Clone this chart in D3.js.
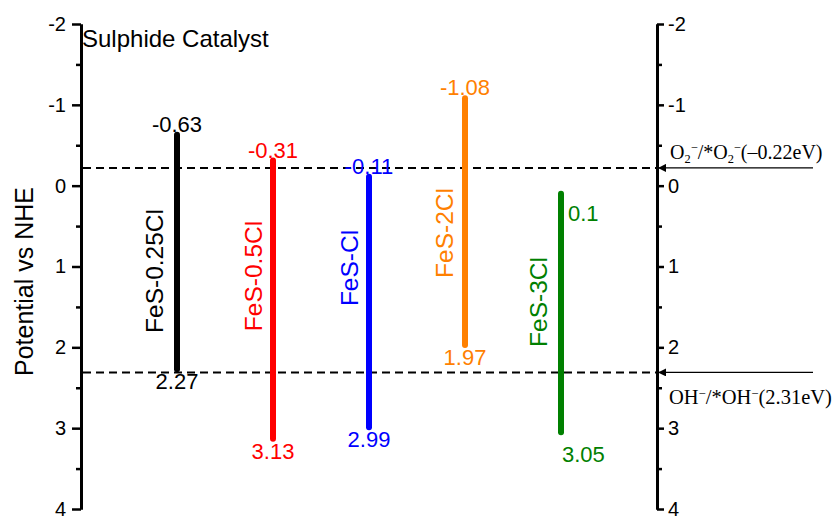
<!DOCTYPE html>
<html>
<head>
<meta charset="utf-8">
<script src="https://cdn.jsdelivr.net/npm/d3@7/dist/d3.min.js"></script>
<style>
  html, body { margin: 0; padding: 0; background: #fff; }
  svg { display: block; font-family: "Liberation Sans", Arial, sans-serif; }
</style>
</head>
<body>
<svg id="chart" width="836" height="516"></svg>
<script>
// Band edges of each sulphide catalyst (V vs NHE)
const categories = ["FeS-0.25Cl", "FeS-0.5Cl", "FeS-Cl", "FeS-2Cl", "FeS-3Cl"];
const cbValues   = [-0.63, -0.31, -0.11, -1.08, 0.1];   // conduction band (top)
const vbValues   = [2.27, 3.13, 2.99, 1.97, 3.05];      // valence band (bottom)
const cbLabels   = ["-0.63", "-0.31", "-0.11", "-1.08", "0.1"];
const vbLabels   = ["2.27", "3.13", "2.99", "1.97", "3.05"];
const barColors  = ["#000000", "#ff0000", "#0000ff", "#ff8000", "#008000"];

// Axis ticks
const majorTicks = [-2, -1, 0, 1, 2, 3, 4];
const minorTicks = [-1.5, -0.5, 0.5, 1.5, 2.5, 3.5];

// Redox reference potentials
const refLevels = [-0.22, 2.31];

const svg = d3.select("#chart");
const xLeft = 81, xRight = 657;

const y = d3.scaleLinear().domain([-2, 4]).range([24, 509]);
const x = d3.scalePoint().domain(categories).range([177, 561]);

// ---- axes ----
function styleAxis(g) {
  g.select(".domain").attr("stroke", "#000").attr("stroke-width", 3);
  g.selectAll(".tick line").attr("stroke", "#000").attr("stroke-width", 2.5);
  g.selectAll(".tick text").attr("fill", "#000")
    .style("font-size", "20px").style("font-family", "'Liberation Sans', Arial, sans-serif");
}

const leftMajor = svg.append("g").attr("transform", `translate(${xLeft},0)`)
  .call(d3.axisLeft(y).tickValues(majorTicks).tickSize(9).tickSizeOuter(0).tickPadding(6)
    .tickFormat(d3.format("d")));
styleAxis(leftMajor);
const leftMinor = svg.append("g").attr("transform", `translate(${xLeft},0)`)
  .call(d3.axisLeft(y).tickValues(minorTicks).tickSize(5).tickSizeOuter(0).tickFormat(""));
styleAxis(leftMinor);

const rightMajor = svg.append("g").attr("transform", `translate(${xRight},0)`)
  .call(d3.axisRight(y).tickValues(majorTicks).tickSize(7).tickSizeOuter(0).tickPadding(4)
    .tickFormat(d3.format("d")));
styleAxis(rightMajor);
const rightMinor = svg.append("g").attr("transform", `translate(${xRight},0)`)
  .call(d3.axisRight(y).tickValues(minorTicks).tickSize(5).tickSizeOuter(0).tickFormat(""));
styleAxis(rightMinor);

// minus signs on tick labels drawn as hyphens
svg.selectAll(".tick text").text(function() { return d3.select(this).text().replace("\u2212", "-"); });

// ---- axis title and chart title ----
svg.append("text")
  .attr("transform", `translate(33,${(y(-2) + y(4)) / 2 + 15}) rotate(-90)`)
  .attr("text-anchor", "middle")
  .style("font-size", "25px")
  .text("Potential vs NHE");

svg.append("text")
  .attr("x", 82).attr("y", 47)
  .style("font-size", "24px")
  .text("Sulphide Catalyst");

// ---- reference dashed lines ----
svg.selectAll("line.ref").data(refLevels).join("line")
  .attr("class", "ref")
  .attr("x1", xLeft + 2).attr("x2", xRight)
  .attr("y1", d => y(d)).attr("y2", d => y(d))
  .attr("stroke", "#000").attr("stroke-width", 2)
  .attr("stroke-dasharray", "8,5");

// ---- band bars ----
const idx = d3.range(categories.length);

svg.selectAll("line.band").data(idx).join("line")
  .attr("class", "band")
  .attr("x1", i => x(categories[i])).attr("x2", i => x(categories[i]))
  .attr("y1", i => y(cbValues[i])).attr("y2", i => y(vbValues[i]))
  .attr("stroke", i => barColors[i])
  .attr("stroke-width", 6)
  .attr("stroke-linecap", "round");

// category names, rotated beside each bar
const nameOffset = [14, 11, 11, 12, 14];
const nameCenter = [271, 276, 268, 233, 302];
svg.selectAll("text.cat").data(idx).join("text")
  .attr("class", "cat")
  .attr("transform", i => `translate(${x(categories[i]) - nameOffset[i]},${nameCenter[i]}) rotate(-90)`)
  .attr("text-anchor", "middle")
  .attr("fill", i => barColors[i])
  .style("font-size", "24.5px")
  .text(i => categories[i]);

// edge value labels
const sideLabel = [false, false, false, false, true];
svg.selectAll("text.cb").data(idx).join("text")
  .attr("class", "cb")
  .attr("x", i => sideLabel[i] ? x(categories[i]) + 7 : x(categories[i]))
  .attr("y", i => sideLabel[i] ? y(cbValues[i]) + 27 : y(cbValues[i]) - 3)
  .attr("text-anchor", i => sideLabel[i] ? "start" : "middle")
  .attr("fill", i => barColors[i])
  .style("font-size", "22px")
  .text(i => cbLabels[i]);

svg.selectAll("text.vb").data(idx).join("text")
  .attr("class", "vb")
  .attr("x", i => sideLabel[i] ? x(categories[i]) + 1 : x(categories[i]))
  .attr("y", i => y(vbValues[i]) + (sideLabel[i] ? 30 : 20))
  .attr("text-anchor", i => sideLabel[i] ? "start" : "middle")
  .attr("fill", i => barColors[i])
  .style("font-size", "22px")
  .text(i => vbLabels[i]);

// ---- arrows pointing at the reference levels ----
svg.append("defs").append("marker")
  .attr("id", "arrowhead")
  .attr("viewBox", "0 0 10 10")
  .attr("refX", 10).attr("refY", 5)
  .attr("markerWidth", 10).attr("markerHeight", 8)
  .attr("markerUnits", "userSpaceOnUse")
  .attr("orient", "auto")
  .append("path").attr("d", "M0,0 L10,5 L0,10 Z").attr("fill", "#000");

svg.selectAll("line.arrow").data(refLevels).join("line")
  .attr("class", "arrow")
  .attr("x1", 813).attr("x2", xRight + 1)
  .attr("y1", d => y(d)).attr("y2", d => y(d))
  .attr("stroke", "#000").attr("stroke-width", 1.2)
  .attr("marker-end", "url(#arrowhead)");

// reference labels: O2-/*O2- and OH-/*OH-
function refText(parts, xPos, yPos, size) {
  const t = svg.append("text")
    .attr("x", xPos).attr("y", yPos)
    .style("font-family", "'Liberation Serif', 'Times New Roman', serif")
    .style("font-size", size + "px");
  let shift = 0;
  parts.forEach(p => {
    const target = p.sub ? size * 0.22 : p.sup ? -size * 0.32 : 0;
    t.append("tspan")
      .attr("dy", target - shift)
      .style("font-size", (p.sub || p.sup) ? (size * 0.62) + "px" : null)
      .text(p.t);
    shift = target;
  });
}

refText([
  { t: "O" }, { t: "2", sub: true }, { t: "\u2212", sup: true }, { t: "/*O" },
  { t: "2", sub: true }, { t: "\u2212", sup: true }, { t: "(\u20130.22eV)" }
], 670, y(refLevels[0]) - 9, 20);

refText([
  { t: "OH" }, { t: "\u2212", sup: true }, { t: "/*OH" },
  { t: "\u2212", sup: true }, { t: "(2.31eV)" }
], 669, y(refLevels[1]) + 32, 20.5);
</script>
</body>
</html>
